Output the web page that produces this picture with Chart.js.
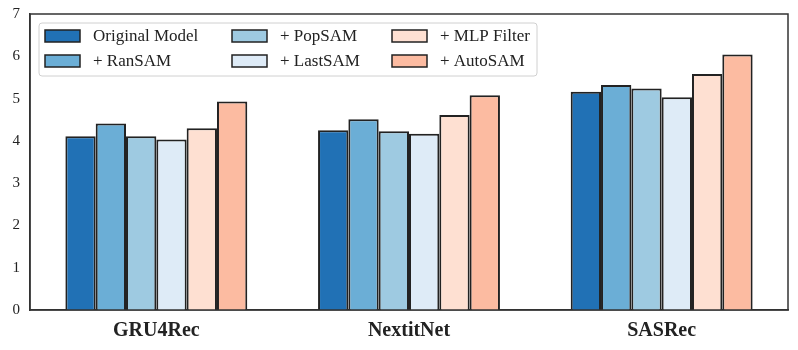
<!DOCTYPE html>
<html>
<head>
<meta charset="utf-8">
<script src="https://cdn.jsdelivr.net/npm/chart.js@4"></script>
<style>
  body { margin: 0; background: #fff; }
  #wrap { width: 798px; height: 350px; }
</style>
</head>
<body>
<div id="wrap"><canvas id="bars"></canvas></div>
<script>
var models = ['GRU4Rec', 'NextitNet', 'SASRec'];
var seriesNames = ['Original Model', '+ RanSAM', '+ PopSAM', '+ LastSAM', '+ MLP Filter', '+ AutoSAM'];
var original = [4.11, 4.25, 5.16];
var ranSAM = [4.41, 4.51, 5.32];
var popSAM = [4.11, 4.23, 5.24];
var lastSAM = [4.03, 4.17, 5.03];
var mlpFilter = [4.30, 4.61, 5.58];
var autoSAM = [4.93, 5.08, 6.04];
var yTicks = [0, 1, 2, 3, 4, 5, 6, 7];

var colors = ['#2171b5', '#6baed6', '#9ecae1', '#deebf7', '#fee0d2', '#fcbba1'];
var values = [original, ranSAM, popSAM, lastSAM, mlpFilter, autoSAM];
var serif = "'Liberation Serif', 'Times New Roman', serif";

var datasets = seriesNames.map(function (name, i) {
    return {
        label: name,
        data: values[i],
        backgroundColor: colors[i],
        borderColor: '#222',
        borderWidth: 2,
        barPercentage: 1.0,
        categoryPercentage: 0.72
    };
});

// frame round the plot + matplotlib-style legend (column-major, 3 cols)
var framePlugin = {
    id: 'frame',
    afterDraw: function (chart) {
        var c = chart.ctx, a = chart.chartArea;
        c.save();
        c.strokeStyle = '#333';
        c.lineWidth = 1.5;
        c.strokeRect(a.left, a.top, a.right - a.left, a.bottom - a.top);

        var lx = a.left + 9, ly = a.top + 9, lw = 498, lh = 53;
        c.fillStyle = 'rgba(255,255,255,0.85)';
        c.strokeStyle = '#d0d0d0';
        c.lineWidth = 1;
        c.beginPath();
        c.roundRect(lx, ly, lw, lh, 3);
        c.fill();
        c.stroke();

        var colX = [lx + 6, lx + 193, lx + 353];
        var rowY = [ly + 13, ly + 38];
        c.font = '17px ' + serif;
        c.textBaseline = 'middle';
        for (var i = 0; i < seriesNames.length; i++) {
            var col = Math.floor(i / 2), row = i % 2;
            var x = colX[col], y = rowY[row];
            c.fillStyle = colors[i];
            c.fillRect(x, y - 6, 35, 12);
            c.strokeStyle = '#222';
            c.lineWidth = 1.5;
            c.strokeRect(x, y - 6, 35, 12);
            c.fillStyle = '#222';
            c.fillText(seriesNames[i], x + 48, y + 1);
        }
        c.restore();
    }
};

new Chart(document.getElementById('bars'), {
    type: 'bar',
    data: { labels: models, datasets: datasets },
    options: {
        responsive: true,
        maintainAspectRatio: false,
        animation: false,
        layout: { padding: { top: 14, right: 10, left: 0, bottom: 0 } },
        plugins: {
            legend: { display: false },
            tooltip: { enabled: false }
        },
        scales: {
            x: {
                grid: { display: false },
                border: { color: '#333', width: 1.5 },
                ticks: {
                    color: '#222',
                    padding: 1,
                    font: { family: serif, size: 20, weight: 'bold' }
                },
                afterFit: function (s) { s.height = 40; }
            },
            y: {
                min: 0,
                max: 7,
                grid: { display: false },
                border: { color: '#333', width: 1.5 },
                afterBuildTicks: function (s) {
                    s.ticks = yTicks.map(function (v) { return { value: v }; });
                },
                ticks: {
                    color: '#222',
                    padding: 2,
                    font: { family: serif, size: 15 }
                },
                afterFit: function (s) { s.width = 30; }
            }
        }
    },
    plugins: [framePlugin]
});
</script>
</body>
</html>
